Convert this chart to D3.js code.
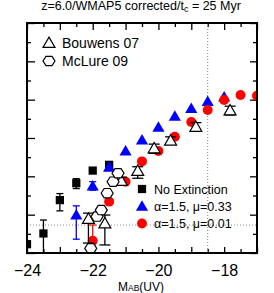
<!DOCTYPE html>
<html>
<head>
<meta charset="utf-8">
<script src="https://cdn.jsdelivr.net/npm/d3@7"></script>
<style>
  body { margin: 0; background: #fff; }
  text { font-family: "Liberation Sans", Arial, sans-serif; }
</style>
</head>
<body>
<div id="chart"></div>
<script>
// z=6 UV luminosity function, cropped panel

// No Extinction (black squares)
var noext_mag = [-24, -23.5, -23, -22.5, -22, -21.5];
var noext_phi = [-6.77, -6.49, -5.62, -5.18, -4.85, -4.70];
var noext_hi  = [null, -6.14, -5.45, -5.06, -4.78, null];
var noext_lo  = [null, -7.40, -5.90, -5.32, -4.92, null];

// alpha=1.5, mu=0.33 (blue triangles)
var mu33_mag = [-22.5, -22, -21.5, -21, -20.5, -20, -19.5, -19, -18.5, -18];
var mu33_phi = [-6.01, -5.25, -4.76, -4.34, -4.05, -3.72, -3.43, -3.23, -3.05, -2.93];
var mu33_hi  = [-5.77, -5.14, null, null, null, null, null, null, null, null];
var mu33_lo  = [-6.64, -5.36, null, null, null, null, null, null, null, null];

// alpha=1.5, mu=0.01 (red circles)
var mu01_mag = [-22, -21.5, -21, -20.5, -20, -19.5, -19, -18.5, -18, -17.5, -17];
var mu01_phi = [-6.68, -5.66, -5.14, -4.61, -4.34, -3.97, -3.58, -3.27, -3.01, -2.88, -2.90];
var mu01_hi  = [-6.27, null, null, null, null, null, null, null, null, null, null];
var mu01_lo  = [-6.85, null, null, null, null, null, null, null, null, null, null];

// Bouwens 07 (open triangles)
var bouwens_mag = [-22.13, -21.63, -21.13, -20.63, -20.13, -19.63, -18.86, -17.82];
var bouwens_phi = [-6.11, -6.23, -5.12, -4.86, -4.27, -4.07, -3.71, -3.28];
var bouwens_hi  = [-5.96, -6.01, -5.02, -4.75, -4.16, -3.97, -3.60, -3.17];
var bouwens_lo  = [-6.74, -6.79, -5.23, -5.05, -4.40, -4.16, -3.82, -3.40];

// McLure 09 (open hexagons)
var mclure_mag = [-22.06, -21.87, -21.74, -21.56, -21.38, -21.23];
var mclure_phi = [-6.88, -6.05, -5.88, -5.44, -5.14, -4.92];

var x_ticks = [-24, -22, -20, -18];
var limit_mag = -18.5;
var limit_phi = -6.27;

var title_main = "z=6.0/WMAP5 corrected/t";
var title_sub = "c";
var title_rest = " = 25 Myr";

function toPoints(mag, phi, hi, lo){
  return mag.map(function(m, i){
    return {m: m, p: phi[i], hi: hi ? hi[i] : null, lo: lo ? lo[i] : null};
  });
}

function hexPath(r){
  var pts = d3.range(6).map(function(k){
    var a = k * Math.PI / 3;
    return [r * Math.cos(a), r * 0.9 * Math.sin(a)];
  });
  return d3.line()(pts) + "Z";
}

function createChart(){
  var W = 274, H = 293;
  var margin = {top: 23, right: 17, bottom: 40, left: 27},
      width = W - margin.left - margin.right,
      height = H - margin.top - margin.bottom;

  var svg = d3.select("#chart").append("svg")
      .attr("width", W)
      .attr("height", H);

  svg.append("defs").append("clipPath").attr("id", "clip")
    .append("rect").attr("width", width).attr("height", height);

  var g = svg.append("g").attr("transform", "translate(" + margin.left + "," + margin.top + ")");

  var x = d3.scaleLinear().domain([-24, -17]).range([0, width]);
  var y = d3.scaleLinear().domain([-7, -1]).range([height, 0]);

  var xMajor = d3.range(-24, -16.9, 1);
  var xMinor = d3.range(-23.5, -17, 1);
  var yMajor = d3.range(-7, -0.9, 1);
  var yMinor = d3.range(-6.5, -1, 1);

  // ticks on all four sides, pointing inward
  function tickAxis(axisFn, scale, vals, len, tr){
    var a = g.append("g")
      .attr("transform", tr)
      .call(axisFn(scale).tickValues(vals).tickSize(len).tickFormat(""));
    a.select(".domain").remove();
    a.selectAll("line").attr("stroke", "#000").attr("stroke-width", 1.3);
  }
  tickAxis(d3.axisTop, x, xMajor, 6, "translate(0," + height + ")");
  tickAxis(d3.axisTop, x, xMinor, 4, "translate(0," + height + ")");
  tickAxis(d3.axisBottom, x, xMajor, 7, "translate(0,0)");
  tickAxis(d3.axisBottom, x, xMinor, 4, "translate(0,0)");
  tickAxis(d3.axisRight, y, yMajor, 8, "translate(0,0)");
  tickAxis(d3.axisRight, y, yMinor, 4, "translate(0,0)");
  tickAxis(d3.axisLeft, y, yMajor, 7, "translate(" + width + ",0)");
  tickAxis(d3.axisLeft, y, yMinor, 4, "translate(" + width + ",0)");

  // tick labels
  g.append("g")
    .attr("transform", "translate(0," + height + ")")
    .call(d3.axisBottom(x).tickValues(x_ticks).tickSize(0).tickPadding(12).tickFormat(d3.format("d")))
    .call(function(a){ a.select(".domain").remove(); })
    .selectAll("text")
      .attr("font-size", 16)
      .attr("font-family", "Liberation Sans, Arial, sans-serif")
      .attr("fill", "#000");

  // dotted guide lines
  g.append("line")
    .attr("x1", x(limit_mag)).attr("x2", x(limit_mag))
    .attr("y1", 0).attr("y2", height)
    .attr("stroke", "#888").attr("stroke-width", 1)
    .attr("stroke-dasharray", "1,2");
  g.append("line")
    .attr("x1", 0).attr("x2", width)
    .attr("y1", y(limit_phi)).attr("y2", y(limit_phi))
    .attr("stroke", "#888").attr("stroke-width", 1)
    .attr("stroke-dasharray", "1,2");

  var plot = g.append("g").attr("clip-path", "url(#clip)");

  function errorBars(data, color, cap){
    var eb = plot.append("g").selectAll("g")
      .data(data.filter(function(d){ return d.hi != null; }))
      .enter().append("g")
        .attr("stroke", color).attr("stroke-width", 1.3);
    eb.append("line")
      .attr("x1", function(d){ return x(d.m); })
      .attr("x2", function(d){ return x(d.m); })
      .attr("y1", function(d){ return y(d.hi); })
      .attr("y2", function(d){ return y(d.lo); });
    eb.append("line")
      .attr("x1", function(d){ return x(d.m) - cap; })
      .attr("x2", function(d){ return x(d.m) + cap; })
      .attr("y1", function(d){ return y(d.hi); })
      .attr("y2", function(d){ return y(d.hi); });
    eb.append("line")
      .attr("x1", function(d){ return x(d.m) - cap; })
      .attr("x2", function(d){ return x(d.m) + cap; })
      .attr("y1", function(d){ return y(d.lo); })
      .attr("y2", function(d){ return y(d.lo); });
  }

  var noext = toPoints(noext_mag, noext_phi, noext_hi, noext_lo);
  var mu33 = toPoints(mu33_mag, mu33_phi, mu33_hi, mu33_lo);
  var mu01 = toPoints(mu01_mag, mu01_phi, mu01_hi, mu01_lo);
  var bouwens = toPoints(bouwens_mag, bouwens_phi, bouwens_hi, bouwens_lo);
  var mclure = toPoints(mclure_mag, mclure_phi);

  var sq = d3.symbol().type(d3.symbolSquare).size(68)();
  var tri = d3.symbol().type(d3.symbolTriangle).size(64)();
  var circ = d3.symbol().type(d3.symbolCircle).size(78)();
  var otri = d3.symbol().type(d3.symbolTriangle).size(62)();
  var hex = hexPath(6);

  function markers(data, path, fill, stroke, sw, dy){
    plot.append("g").selectAll("path")
      .data(data)
      .enter().append("path")
        .attr("d", path)
        .attr("transform", function(d){ return "translate(" + x(d.m) + "," + (y(d.p) + (dy || 0)) + ")"; })
        .attr("fill", fill)
        .attr("stroke", stroke)
        .attr("stroke-width", sw);
  }

  errorBars(noext, "#000", 3.5);
  markers(noext, sq, "#000", "none", 0);
  errorBars(mu33, "#0000ff", 3.5);
  markers(mu33, tri, "#0000ff", "none", 0, 1);
  errorBars(mu01, "#ff0000", 3.5);
  markers(mu01, circ, "#ff0000", "none", 0);
  errorBars(bouwens, "#000", 5.5);
  markers(bouwens, otri, "#fff", "#000", 1.2, 1);
  markers(mclure, hex, "#fff", "#000", 1.2);

  // frame
  g.append("rect")
    .attr("width", width).attr("height", height)
    .attr("fill", "none").attr("stroke", "#000").attr("stroke-width", 2);

  // upper-left legend
  var leg1 = [
    {label: "Bouwens 07", path: otri, dy: 1},
    {label: "McLure 09", path: hex, dy: 0}
  ];
  leg1.forEach(function(d, i){
    var ly = 20 + i * 18;
    g.append("path").attr("d", d.path)
      .attr("transform", "translate(22," + (ly + d.dy) + ")")
      .attr("fill", "#fff").attr("stroke", "#000").attr("stroke-width", 1.2);
    g.append("text").attr("x", 35).attr("y", ly + 5)
      .attr("font-size", 14).text(d.label);
  });

  // lower-right legend
  var leg2 = [
    {label: "No Extinction", path: sq, color: "#000", dy: 0},
    {label: "\u03b1=1.5, \u03bc=0.33", path: tri, color: "#0000ff", dy: 1},
    {label: "\u03b1=1.5, \u03bc=0.01", path: circ, color: "#ff0000", dy: 0}
  ];
  leg2.forEach(function(d, i){
    var ly = 166 + i * 17.3;
    g.append("path").attr("d", d.path)
      .attr("transform", "translate(115," + (ly + d.dy) + ")")
      .attr("fill", d.color);
    g.append("text").attr("x", 127).attr("y", ly + 4.5)
      .attr("font-size", 12.5).text(d.label);
  });

  // title
  var t = svg.append("text")
    .attr("x", 141).attr("y", 10)
    .attr("text-anchor", "middle")
    .attr("font-size", 12.5);
  t.append("tspan").text(title_main);
  t.append("tspan").attr("font-size", 9).attr("dy", 2).text(title_sub);
  t.append("tspan").attr("dy", -2).text(title_rest);

  // x label
  var xl = svg.append("text")
    .attr("x", 141).attr("y", 290.5)
    .attr("text-anchor", "middle")
    .attr("font-size", 12);
  xl.append("tspan").text("M");
  xl.append("tspan").attr("font-size", 8.5).text("AB");
  xl.append("tspan").text("(UV)");
}

createChart();
</script>
</body>
</html>
